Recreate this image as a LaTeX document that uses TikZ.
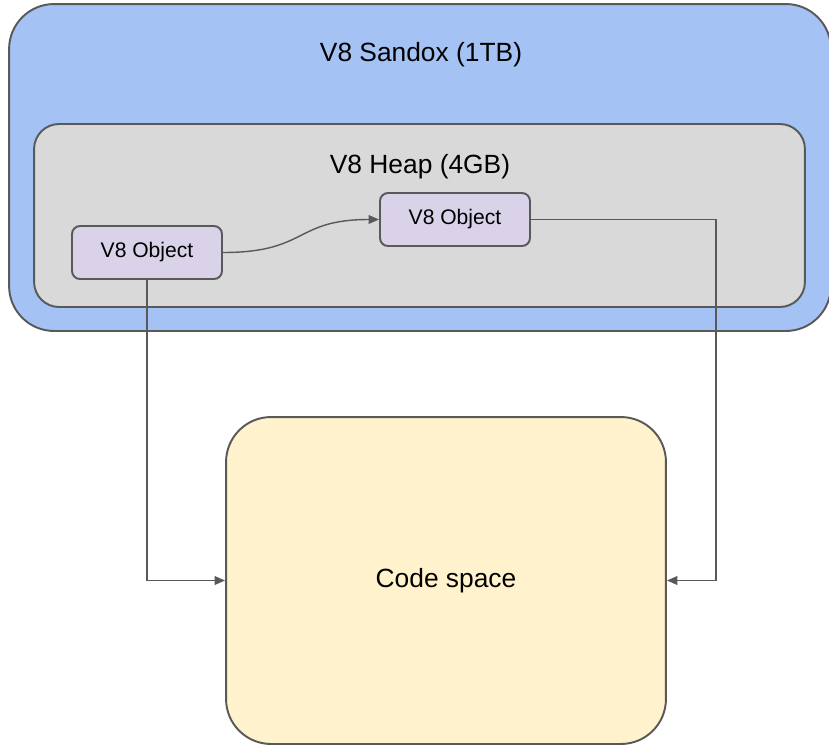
\documentclass[tikz,border=0pt]{standalone}
\usepackage{fontspec}
\setmainfont{Liberation Sans}
\usepackage{tikz}
\usetikzlibrary{arrows.meta, positioning}
\usepackage{xcolor}

\definecolor{sandboxblue}{HTML}{A4C2F4}
\definecolor{heapgrey}{HTML}{D9D9D9}
\definecolor{objpurple}{HTML}{D9D2E9}
\definecolor{codeyellow}{HTML}{FFF2CC}
\definecolor{edgegrey}{HTML}{595959}

\begin{document}
\begin{tikzpicture}[
    x=0.02cm, y=-0.02cm,
    sandbox/.style={rectangle, draw=edgegrey, line width=1.1pt, fill=sandboxblue, rounded corners=0.9cm, minimum width=16.44cm, minimum height=6.54cm, inner sep=0pt},
    heap/.style={rectangle, draw=edgegrey, line width=1.1pt, fill=heapgrey, rounded corners=0.5cm, minimum width=15.42cm, minimum height=3.66cm, inner sep=0pt},
    object/.style={rectangle, draw=edgegrey, line width=1.1pt, fill=objpurple, rounded corners=0.16cm, minimum width=3cm, minimum height=1.06cm, inner sep=0pt, font=\fontsize{12}{14}\selectfont},
    codespace/.style={rectangle, draw=edgegrey, line width=1.1pt, fill=codeyellow, rounded corners=0.9cm, minimum width=8.8cm, minimum height=6.54cm, inner sep=0pt, font=\fontsize{15}{18}\selectfont},
    title/.style={font=\fontsize{15}{18}\selectfont, inner sep=0pt},
    arrow/.style={-{Triangle[length=6pt, width=5pt]}, draw=edgegrey, line width=0.8pt}
]
\useasboundingbox (0,0) rectangle (829,745);

% Containers
\node[sandbox] (sandbox) at (420,167.5) {};
\node[title] (sandboxlabel) at (421,55) {V8 Sandox (1TB)};
\node[heap] (heap) at (419.5,215.5) {};
\node[title] (heaplabel) at (420,167) {V8 Heap (4GB)};

% Objects inside the heap
\node[object] (obj1) at (147,252.5) {V8 Object};
\node[object] (obj2) at (455,219.5) {V8 Object};

% Code space below
\node[codespace] (code) at (446,580.5) {Code space};
\coordinate (turn) at (716,580.5);

% Arrows
\draw[arrow] (obj1.east) .. controls +(85,0) and +(-85,0) .. (obj2.west);
\draw[arrow] (obj1.south) |- (code.west);
\draw[arrow] (obj2.east) -| (turn) -- (code.east);

\end{tikzpicture}
\end{document}
